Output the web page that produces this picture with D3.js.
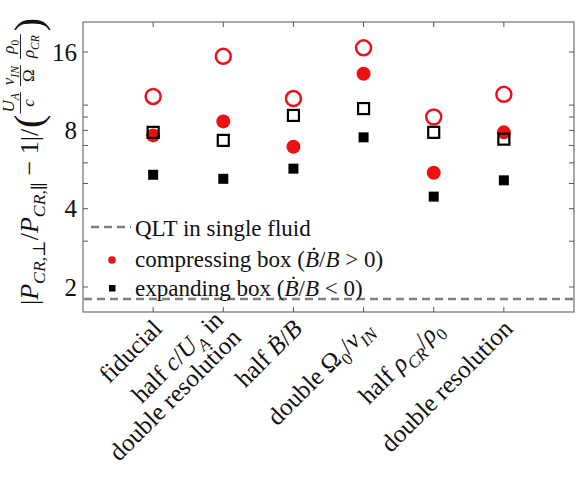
<!DOCTYPE html>
<html>
<head>
<meta charset="utf-8">
<script src="https://cdn.jsdelivr.net/npm/d3@7"></script>
<style>
  body { margin: 0; background: #fff; }
  text { font-family: "Liberation Serif", "DejaVu Serif", serif; fill: #111; }
</style>
</head>
<body>
<svg id="chart" width="580" height="480"></svg>
<script>
// run labels, one per column (a label may have two lines)
var categories = [
  [[["fiducial",""]]],
  [[["half ",""],["c","i"],["/",""],["U","i"],["A","si"],[" in",""]],
   [["double resolution",""]]],
  [[["half ",""],["B\u0307","i"],["/",""],["B","i"]]],
  [[["double \u03A9",""],["0","s"],["/",""],["\u03BD","i"],["IN","si"]]],
  [[["half ",""],["\u03C1","i"],["CR","si"],["/",""],["\u03C1","i"],["0","s"]]],
  [[["double resolution",""]]]
]

var compressOpen  = [10.8, 15.4, 10.6, 16.6, 9.0, 11.0]
var compressFill  = [7.65, 8.66, 6.92, 13.2, 5.5, 7.86]
var expandOpen    = [7.86, 7.32, 9.13, 9.7, 7.86, 7.4]
var expandFill    = [5.4, 5.21, 5.7, 7.52, 4.45, 5.14]
var qltSingleFluid = 1.8

var yTicks = [2, 4, 8, 16]
var yMinor = [3, 5, 6, 7, 9, 10]

var svg = d3.select('#chart')
var mLeft = 83, mRight = 574, mTop = 22, mBottom = 312

var x = d3.scaleLinear().domain([0, 7]).range([mLeft, mRight])
var y = d3.scaleLog().base(2).domain([1.603, 20.87]).range([mBottom, mTop])

// helper for text with italics / subscripts
function rich(sel, segs, size){
  var shift = 0
  segs.forEach(function(s){
    var sub = s[1].indexOf('s') >= 0
    var target = sub ? size*0.28 : 0
    sel.append('tspan')
      .attr('dy', target - shift)
      .attr('font-size', sub ? size*0.68 : size)
      .attr('font-style', s[1].indexOf('i') >= 0 ? 'italic' : 'normal')
      .text(s[0])
    shift = target
  })
}

// frame
svg.append('rect')
  .attr('x', mLeft).attr('y', mTop)
  .attr('width', mRight-mLeft).attr('height', mBottom-mTop)
  .attr('fill', 'none').attr('stroke', '#555').attr('stroke-width', 1)

var tl = 5
var allY = yTicks.concat(yMinor)
svg.selectAll('line.yt').data(allY).enter().append('line')
  .attr('x1', mLeft).attr('x2', mLeft+tl)
  .attr('y1', d=>y(d)).attr('y2', d=>y(d))
  .attr('stroke', '#555')
svg.selectAll('line.yt2').data(allY).enter().append('line')
  .attr('x1', mRight).attr('x2', mRight-tl)
  .attr('y1', d=>y(d)).attr('y2', d=>y(d))
  .attr('stroke', '#555')
var idx = d3.range(1, categories.length+1)
svg.selectAll('line.xt').data(idx).enter().append('line')
  .attr('x1', d=>x(d)).attr('x2', d=>x(d))
  .attr('y1', mBottom).attr('y2', mBottom-tl)
  .attr('stroke', '#555')
svg.selectAll('line.xt2').data(idx).enter().append('line')
  .attr('x1', d=>x(d)).attr('x2', d=>x(d))
  .attr('y1', mTop).attr('y2', mTop+tl)
  .attr('stroke', '#555')

svg.selectAll('text.ytl').data(yTicks).enter().append('text')
  .attr('x', 77).attr('y', d=>y(d)).attr('dy', '0.35em')
  .attr('text-anchor', 'end').attr('font-size', 25)
  .text(d=>d)

// x labels rotated
var fs = 25, lh = 25
categories.forEach(function(lines, i){
  var g = svg.append('g')
    .attr('transform', 'translate(' + (x(i+1)+4) + ',' + (mBottom+12) + ') rotate(-45)')
  lines.forEach(function(line, j){
    var t = g.append('text')
      .attr('text-anchor', 'end')
      .attr('y', (j - (lines.length-1)/2)*lh + fs*0.35)
      .attr('font-size', fs)
    rich(t, line, fs)
  })
})

// QLT line
svg.append('line')
  .attr('x1', mLeft+1).attr('x2', mRight-1)
  .attr('y1', y(qltSingleFluid)).attr('y2', y(qltSingleFluid))
  .attr('stroke', '#808080').attr('stroke-width', 2.5)
  .attr('stroke-dasharray', '8,5')

// markers
svg.selectAll('circle.co').data(compressOpen).enter().append('circle')
  .attr('cx', (d,i)=>x(i+1)).attr('cy', d=>y(d)).attr('r', 7.5)
  .attr('fill', 'none').attr('stroke', '#e8131b').attr('stroke-width', 2.5)
svg.selectAll('circle.cf').data(compressFill).enter().append('circle')
  .attr('cx', (d,i)=>x(i+1)).attr('cy', d=>y(d)).attr('r', 7)
  .attr('fill', '#ee1111')
svg.selectAll('rect.eo').data(expandOpen).enter().append('rect')
  .attr('x', (d,i)=>x(i+1)-5.5).attr('y', d=>y(d)-5.5)
  .attr('width', 11).attr('height', 11)
  .attr('fill', 'none').attr('stroke', '#000').attr('stroke-width', 2.2)
svg.selectAll('rect.ef').data(expandFill).enter().append('rect')
  .attr('x', (d,i)=>x(i+1)-5).attr('y', d=>y(d)-5)
  .attr('width', 10).attr('height', 10)
  .attr('fill', '#000')

// legend
var lg = svg.append('g')
lg.append('line').attr('x1', 91).attr('x2', 131).attr('y1', 227).attr('y2', 227)
  .attr('stroke', '#808080').attr('stroke-width', 2.5).attr('stroke-dasharray', '8,5')
lg.append('circle').attr('cx', 112).attr('cy', 260).attr('r', 3.8).attr('fill', '#ee1111')
lg.append('rect').attr('x', 109).attr('y', 285).attr('width', 6.5).attr('height', 6.5).attr('fill', '#000')
var lfs = 23
lg.append('text').attr('x', 135).attr('y', 236).attr('font-size', lfs).text('QLT in single fluid')
rich(lg.append('text').attr('x', 135).attr('y', 267).attr('font-size', lfs),
  [['compressing box (',''],['B\u0307','i'],['/',''],['B','i'],[' > 0)','']], lfs)
rich(lg.append('text').attr('x', 135).attr('y', 296).attr('font-size', lfs),
  [['expanding box (',''],['B\u0307','i'],['/',''],['B','i'],[' < 0)','']], lfs)

// y axis label, rotated
var yl = svg.append('g').attr('transform', 'translate(38,305) rotate(-90)')
var mfs = 26
var t1 = yl.append('text').attr('x', 0).attr('y', 0).attr('font-size', mfs)
rich(t1, [['|',''],['P','i'],['CR,\u22A5','si'],['/',''],['P','i'],['CR,\u2225','si'],[' \u2212 1|/','']], mfs)
var pos = t1.node().getComputedTextLength() + 1
var paren = yl.append('text').attr('x', pos).attr('y', 4).attr('font-size', 40).text('(')
pos += paren.node().getComputedTextLength() + 1
var fracs = [
  [[['U','i'],['A','si']], [['c','i']]],
  [[['\u03BD','i'],['IN','si']], [['\u03A9','']]],
  [[['\u03C1','i'],['0','s']], [['\u03C1','i'],['CR','si']]]
]
var ffs = 17
fracs.forEach(function(f){
  var num = yl.append('text').attr('y', -24).attr('font-size', ffs).attr('text-anchor', 'middle')
  rich(num, f[0], ffs)
  var den = yl.append('text').attr('y', -4).attr('font-size', ffs).attr('text-anchor', 'middle')
  rich(den, f[1], ffs)
  var w = Math.max(num.node().getComputedTextLength(), den.node().getComputedTextLength()) + 2
  num.attr('x', pos + w/2)
  den.attr('x', pos + w/2)
  yl.append('line').attr('x1', pos).attr('x2', pos + w)
    .attr('y1', -17.5).attr('y2', -17.5).attr('stroke', '#111').attr('stroke-width', 0.9)
  pos += w + 6
})
yl.append('text').attr('x', pos - 3).attr('y', 4).attr('font-size', 40).text(')')
</script>
</body>
</html>
